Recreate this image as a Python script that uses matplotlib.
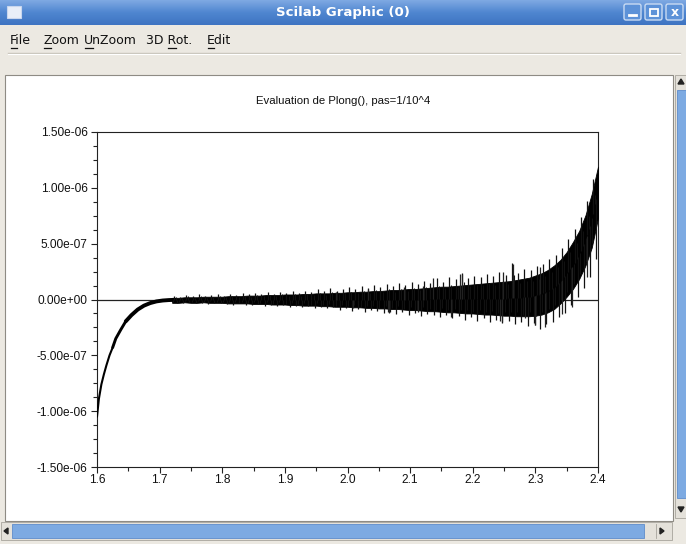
import numpy as np
import matplotlib
matplotlib.use("Agg")
import matplotlib.pyplot as plt
from matplotlib.patches import Rectangle, FancyBboxPatch, Polygon
from matplotlib.ticker import MultipleLocator, FormatStrFormatter
from matplotlib.colors import LinearSegmentedColormap

# ---------------- data ----------------
title = "Evaluation de Plong(), pas=1/10^4"
window_title = "Scilab Graphic (0)"
menu_items = ["File", "Zoom", "UnZoom", "3D Rot.", "Edit"]

# steep start of the curve
x_curve = [1.600, 1.603, 1.607, 1.611, 1.615, 1.620, 1.625, 1.630, 1.638,
           1.646, 1.655, 1.665, 1.675, 1.685, 1.695, 1.705, 1.715, 1.725]
y_curve = [-1.05e-6, -8.9e-7, -7.6e-7, -6.7e-7, -5.9e-7, -5.0e-7, -4.3e-7,
           -3.5e-7, -2.7e-7, -1.95e-7, -1.4e-7, -9.0e-8, -5.5e-8, -3.2e-8,
           -1.7e-8, -9.0e-9, -5.0e-9, -3.0e-9]

# dense core of the noisy band: x, upper and lower edge (units of 1e-8)
x_env = [1.72, 1.73, 1.74, 1.75, 1.76, 1.77, 1.78, 1.79, 1.80, 1.81,
         1.82, 1.83, 1.84, 1.85, 1.86, 1.87, 1.88, 1.89, 1.90, 1.91,
         1.92, 1.93, 1.94, 1.95, 1.96, 1.97, 1.98, 1.99, 2.00, 2.01,
         2.02, 2.03, 2.04, 2.05, 2.06, 2.07, 2.08, 2.09, 2.10, 2.11,
         2.12, 2.13, 2.14, 2.15, 2.16, 2.17, 2.18, 2.19, 2.20, 2.21,
         2.22, 2.23, 2.24, 2.25, 2.26, 2.27, 2.28, 2.29, 2.30, 2.31,
         2.32, 2.33, 2.34, 2.35, 2.36, 2.37, 2.38, 2.39, 2.40]
env_hi = [1.5, 1.5, 2, 2, 2, 2.5, 2.5, 2.5, 2.5, 3,
          3, 3, 3.5, 3.5, 3.5, 4, 4, 4, 4.5, 4.5,
          4.5, 5, 5, 5.5, 5.5, 5.5, 6, 6, 6.5, 6.5,
          7, 7, 7.5, 7.5, 8, 8.5, 8.5, 9, 9.5, 9.5,
          10, 10.5, 11, 11.5, 11.5, 12, 12.5, 13, 13.5, 14,
          14.5, 15, 15.5, 16, 16.5, 17.5, 18.5, 19.5, 21.5, 23.5,
          26.5, 30.5, 35.5, 42.5, 51.5, 61.5, 75.5, 94.5, 119]
env_lo = [-3, -3, -2.5, -3, -3, -2.5, -3, -3, -3, -3.5,
          -3.5, -3.5, -3.5, -4, -4, -4, -4.5, -4.5, -4.5, -5,
          -5, -5.5, -5.5, -5.5, -6, -6, -6.5, -6.5, -6.5, -7,
          -7, -7.5, -7.5, -8, -8, -8.5, -8.5, -9, -9.5, -9.5,
          -10, -10.5, -10.5, -11, -11.5, -11.5, -12, -12.5, -12.5, -13,
          -13.5, -13.5, -14, -14.5, -14.5, -15, -15, -15, -14.5, -13.5,
          -11.5, -8.5, -3.5, 2.5, 9.5, 18.5, 30.5, 46.5, 73]

# jagged outer edge: peak above and below for each 0.01 slot (units of 1e-8)
x_peak = [1.72, 1.73, 1.74, 1.75, 1.76, 1.77, 1.78, 1.79, 1.80, 1.81,
          1.82, 1.83, 1.84, 1.85, 1.86, 1.87, 1.88, 1.89, 1.90, 1.91,
          1.92, 1.93, 1.94, 1.95, 1.96, 1.97, 1.98, 1.99, 2.00, 2.01,
          2.02, 2.03, 2.04, 2.05, 2.06, 2.07, 2.08, 2.09, 2.10, 2.11,
          2.12, 2.13, 2.14, 2.15, 2.16, 2.17, 2.18, 2.19, 2.20, 2.21,
          2.22, 2.23, 2.24, 2.25, 2.26, 2.27, 2.28, 2.29, 2.30, 2.31,
          2.32, 2.33, 2.34, 2.35, 2.36, 2.37, 2.38, 2.39]
peak_hi = [3, 2.5, 4, 3, 4.5, 3, 4, 5, 3.5, 5,
           4, 5.5, 4.5, 6, 5, 6.5, 5, 7, 6, 7.5,
           6, 8, 7, 9, 7.5, 10, 8, 9.5, 11, 9,
           12, 10, 13, 11, 14, 12, 15, 13, 16, 14,
           17, 15, 19, 16, 20, 18, 24, 19, 21, 20,
           23, 21, 25, 22, 33, 24, 27, 26, 30, 32,
           36, 40, 46, 54, 63, 74, 88, 108]
peak_lo = [-3, -3.5, -2.5, -3.5, -3, -4, -3, -3.5, -4, -4.5,
           -3.5, -4.5, -5, -4, -5.5, -4.5, -6, -5, -6.5, -5.5,
           -7, -6, -7.5, -6.5, -8, -7, -9, -8, -10, -8.5,
           -11, -9.5, -10, -12, -11, -13, -11.5, -14, -12, -15,
           -13, -14, -16, -14, -17, -15, -18, -16, -19, -17,
           -20, -18, -21, -19, -22, -20, -24, -21, -26, -22,
           -20, -16, -12, -5, 2, 10, 20, 36]

# individual long spikes: x and tip value (units of 1e-8)
spike_x = [1.982, 2.008, 2.032, 2.064, 2.067, 2.091, 2.112, 2.120, 2.136,
           2.166, 2.179, 2.183, 2.243, 2.246, 2.248, 2.2635, 2.283, 2.299,
           2.300, 2.307, 2.315, 2.342, 2.358, 2.382]
spike_y = [6.6, -8, 9, -11, -12, 11, -11, 12, 19,
           -16, 23, 23, -19, -20, 25, 32, -17, -23,
           -23, 29, -25, -13, -7, 20]

# ---------------- figure ----------------
W, H = 686, 544
fig = plt.figure(figsize=(W / 100, H / 100), dpi=100)

bg = fig.add_axes([0, 0, 1, 1], zorder=0)
bg.set_xlim(0, W)
bg.set_ylim(H, 0)
bg.axis("off")

beige = "#ECE9E2"
bg.add_patch(Rectangle((0, 0), W, H, color=beige, zorder=0))

# title bar gradient
grad = np.linspace(0, 1, 64).reshape(-1, 1)
tb_cmap = LinearSegmentedColormap.from_list("tb", ["#7FA9E3", "#4F86D0", "#3E74C2"])
bg.imshow(grad, cmap=tb_cmap, extent=[0, W, 25, 0], aspect="auto", zorder=1)
bg.text(343, 12.5, window_title, color="white", fontsize=9.5, fontweight="bold",
        ha="center", va="center", family="DejaVu Sans", zorder=3)
bg.add_patch(Rectangle((7, 6), 14, 12, facecolor="#E8EEF8", edgecolor="#C8D6EE", lw=0.8, zorder=3))
for bx in [624, 645, 666]:
    bg.add_patch(FancyBboxPatch((bx, 4), 17, 16, boxstyle="round,pad=0,rounding_size=2",
                                facecolor="#5D92D8", edgecolor="#C9DBF3", lw=1.0, zorder=3))
bg.plot([629, 636], [15, 15], color="white", lw=2, zorder=4)
bg.add_patch(Rectangle((649.5, 8.5), 8, 7, facecolor="none", edgecolor="white", lw=1.3, zorder=4))
bg.text(674.5, 12.5, "x", color="white", fontsize=9, fontweight="bold",
        ha="center", va="center", zorder=4)

# menu bar
menu_x = [10, 43, 84, 146, 207]
ul_char = [0, 0, 0, 3, 0]
menu_fs = 9.0
menu_texts = []
for label, mx in zip(menu_items, menu_x):
    menu_texts.append(bg.text(mx, 41, label, fontsize=menu_fs, ha="left", va="center",
                              family="DejaVu Sans", color="#111111", zorder=3))
fig.canvas.draw()
renderer = fig.canvas.get_renderer()
for t, uc in zip(menu_texts, ul_char):
    s = t.get_text()
    t0 = bg.text(0, 0, s[:uc] if uc > 0 else "", fontsize=menu_fs, family="DejaVu Sans")
    t1 = bg.text(0, 0, s[:uc + 1], fontsize=menu_fs, family="DejaVu Sans")
    w0 = t0.get_window_extent(renderer).width if uc > 0 else 0
    w1 = t1.get_window_extent(renderer).width
    t0.remove(); t1.remove()
    x0 = t.get_position()[0]
    bg.plot([x0 + w0 + 0.5, x0 + w1 - 0.5], [47.5, 47.5], color="#111111", lw=0.9, zorder=3)
bg.plot([8, 680], [53, 53], color="#C9C5BC", lw=1.0, zorder=2)
bg.plot([8, 680], [54, 54], color="#FFFFFF", lw=0.8, zorder=2)

# canvas
bg.add_patch(Rectangle((5, 75), 668, 446, facecolor="white", edgecolor="#8E8B84", lw=0.8, zorder=1))

# vertical scrollbar
bg.add_patch(Rectangle((675, 75), 11, 443, facecolor="#E4E1DA", edgecolor="#A7A49C", lw=0.6, zorder=2))
bg.add_patch(Rectangle((677, 90), 9, 408, facecolor="#7DAAE2", edgecolor="#5E8CCB", lw=0.6, zorder=2))
bg.add_patch(Polygon([[678, 84], [684, 84], [681, 79]], color="#222222", zorder=3))
bg.add_patch(Polygon([[678, 507], [684, 507], [681, 512]], color="#222222", zorder=3))

# horizontal scrollbar
bg.add_patch(Rectangle((1, 522), 671, 18, facecolor="#E4E1DA", edgecolor="#A7A49C", lw=0.6, zorder=2))
bg.add_patch(Rectangle((12, 524), 632, 14, facecolor="#7DAAE2", edgecolor="#5E8CCB", lw=0.6, zorder=2))
bg.add_patch(Polygon([[8, 528], [8, 534], [4, 531]], color="#222222", zorder=3))
bg.add_patch(Polygon([[660, 528], [660, 534], [664, 531]], color="#222222", zorder=3))
bg.plot([656, 656], [524, 538], color="#A7A49C", lw=0.6, zorder=3)

# plot title
bg.text(343, 101, title, fontsize=8.2, ha="center", va="center",
        family="Liberation Sans", color="#111111", zorder=3)

# ---------------- plot axes ----------------
left, right, top, bottom = 97, 598, 132, 467
ax = fig.add_axes([left / W, 1 - bottom / H, (right - left) / W, (bottom - top) / H], zorder=2)
ax.set_facecolor("white")

x_env_a = np.array(x_env)
hi = np.array(env_hi) * 1e-8
lo = np.array(env_lo) * 1e-8
mid = (hi + lo) / 2
ax.fill_between(x_env_a, lo, hi, color="black", lw=0.6, zorder=3)

# start of the curve: thin at first, thicker (noisy) once it bends
ax.plot(x_curve[:7], y_curve[:7], color="black", lw=1.5, zorder=3, solid_capstyle="round")
ax.plot(x_curve[6:10], y_curve[6:10], color="black", lw=2.1, zorder=3, solid_capstyle="round")
ax.plot(x_curve[9:], y_curve[9:], color="black", lw=2.8, zorder=3, solid_capstyle="round")

# jagged edges drawn as vertical hairs from the core
xp = np.array(x_peak)
ph = np.array(peak_hi) * 1e-8
pl = np.array(peak_lo) * 1e-8
ax.vlines(xp + 0.0025, np.interp(xp + 0.0025, x_env_a, mid), ph, color="#111111", lw=0.9, zorder=3)
ax.vlines(xp + 0.0075, np.interp(xp + 0.0075, x_env_a, mid), pl, color="#111111", lw=0.9, zorder=3)
ax.vlines(xp + 0.006, np.interp(xp + 0.006, x_env_a, mid), 0.8 * ph + 0.2 * pl,
          color="#111111", lw=0.8, zorder=3)
ax.vlines(xp + 0.001, np.interp(xp + 0.001, x_env_a, mid), 0.8 * pl + 0.2 * ph,
          color="#111111", lw=0.8, zorder=3)

base = np.interp(spike_x, x_env_a, mid)
ax.vlines(spike_x, base, np.array(spike_y) * 1e-8, color="#222222", lw=0.9, zorder=3)
ax.axhline(0, color="#222222", lw=0.9, zorder=2)

ax.set_xlim(1.6, 2.4)
ax.set_ylim(-1.5e-6, 1.5e-6)
ax.xaxis.set_major_locator(MultipleLocator(0.1))
ax.xaxis.set_minor_locator(MultipleLocator(0.05))
ax.yaxis.set_major_locator(MultipleLocator(5e-7))
ax.yaxis.set_minor_locator(MultipleLocator(1.25e-7))
ax.xaxis.set_major_formatter(FormatStrFormatter("%.1f"))
ax.yaxis.set_major_formatter(FormatStrFormatter("%.2e"))
ax.tick_params(which="major", direction="out", length=4.3, width=0.8, color="#222222",
               labelsize=8.6, labelcolor="#111111")
ax.tick_params(which="minor", direction="out", length=2.9, width=0.8, color="#222222")
ax.tick_params(axis="x", which="major", pad=1)
ax.tick_params(axis="y", which="major", pad=2.5)
for lab in ax.get_xticklabels() + ax.get_yticklabels():
    lab.set_family("Liberation Sans")
for sp in ax.spines.values():
    sp.set_linewidth(0.8)
    sp.set_color("#222222")

fig.savefig("out.png", dpi=100)
